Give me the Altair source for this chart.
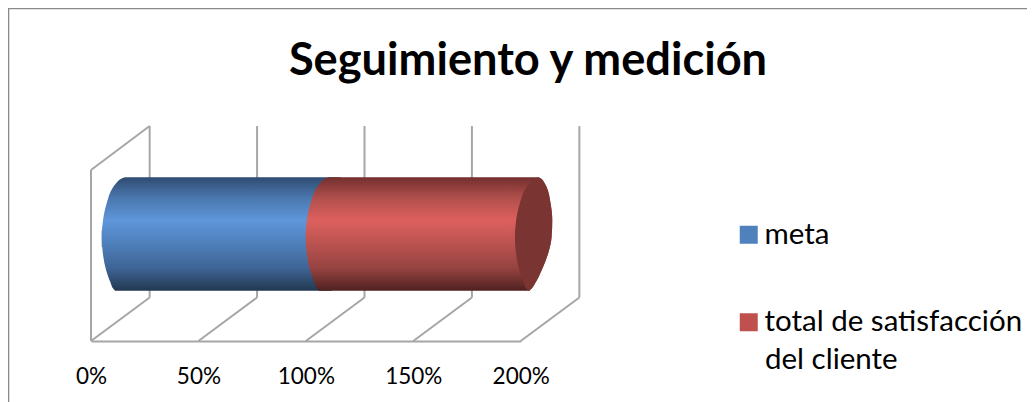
import altair as alt
import pandas as pd

# --- values ---
TITLE = "Seguimiento y medición"
series = ["meta", "total de satisfacción del cliente"]
bar_start = [5.0, 99.9]          # % where each segment's visible end begins
bar_end = [100.0, 200.0]
colors = ["#4f81bd", "#c0504d"]
ticks = [0, 50, 100, 150, 200]
legend_second_line = "del cliente"

depth_x = 27.3      # % shift of the back wall
depth_y = 25.4      # height units shift of the back wall
wall_top = 125.7
front_top = 100

# cylinder outline, top to bottom
profile_y = [95.7, 94.7, 93.0, 90.2, 80.5, 70.8, 61.0, 51.3, 41.5, 33.7, 31.0, 29.4]
end_offset = [10.8, 8.8, 7.2, 5.4, 2.3, 0.6, 0.0, 0.5, 2.0, 4.2, 5.1, 6.2]
cap_base = 197.3
cap_right = [208.2, 209.7, 210.8, 212.0, 213.9, 214.7, 214.4, 212.8, 209.8, 206.7, 205.3, 204.0]

blue_stops = [("#2f4c72", 0), ("#4a77ae", 0.18), ("#5e96da", 0.38), ("#4f80bb", 0.58), ("#3f6596", 0.8), ("#223850", 1)]
red_stops = [("#73302e", 0), ("#b04f4c", 0.18), ("#dd605d", 0.38), ("#bb5350", 0.58), ("#964341", 0.8), ("#4f2120", 1)]
cap_color = "#7a3431"
grid_color = "#a6a6a6"
border_color = "#8a8a8a"
FONT = "Lato"

# --- shared scales ---
X = alt.Scale(domain=[0, 200], range=[83, 512.7], nice=False, zero=False)
Y = alt.Scale(domain=[0, 100], range=[333, 162], nice=False, zero=False)
X_AXIS = alt.Axis(
    values=ticks, labelExpr="datum.value + '%'", grid=False, ticks=False, title=None,
    domainColor=grid_color, domainWidth=2, labelColor="#000000", labelFont=FONT,
    labelFontSize=22.5, labelPadding=24, labelFlush=False, labelOverlap=False,
)


def grad(stops):
    return alt.LinearGradient(
        gradient="linear", x1=0, x2=0, y1=0, y2=1,
        stops=[alt.GradientStop(color=c, offset=o) for c, o in stops],
    )


# --- frame of the 3D box ---
segs = []
for t in ticks:
    segs.append(dict(x=t, x2=t + depth_x, y=0, y2=depth_y))
    segs.append(dict(x=t + depth_x, x2=t + depth_x, y=depth_y, y2=wall_top))
segs.append(dict(x=0, x2=0, y=0, y2=front_top))
segs.append(dict(x=0, x2=depth_x, y=front_top, y2=wall_top))
frame = alt.Chart(pd.DataFrame(segs)).mark_rule(color=grid_color, strokeWidth=2).encode(
    x=alt.X("x:Q", scale=X, axis=X_AXIS), x2="x2:Q",
    y=alt.Y("y:Q", scale=Y, axis=None), y2="y2:Q",
)

# --- data bars: these feed the legend, the cylinder is painted on top ---
bars = pd.DataFrame({"serie": series, "a": bar_start, "b": bar_end, "lo": [55, 55], "hi": [65, 65]})
legend_bars = alt.Chart(bars).mark_bar().encode(
    x=alt.X("a:Q", scale=X, title=None), x2="b:Q",
    y=alt.Y("lo:Q", scale=Y, axis=None), y2="hi:Q",
    color=alt.Color("serie:N", sort=series, scale=alt.Scale(domain=series, range=colors), legend=alt.Legend(
        title=None, orient="none", legendX=726, legendY=212, symbolType="square", symbolSize=324,
        symbolStrokeWidth=0, labelFont=FONT, labelFontSize=29.5, labelColor="#000000", labelLimit=0,
        rowPadding=56.5, labelOffset=1, symbolOpacity=1,
        labelExpr="datum.label == 'meta' ? 'meta' : 'total de satisfacción'",
    )),
)
second_line = alt.Chart(pd.DataFrame({"t": [legend_second_line]})).mark_text(
    font=FONT, fontSize=29.5, color="#000000", align="left", baseline="alphabetic"
).encode(text="t:N", x=alt.value(757), y=alt.value(361))

# --- cylinder ---
cyl = pd.DataFrame({
    "y": profile_y,
    "blue_a": [bar_start[0] + o for o in end_offset],
    "blue_b": [bar_end[0] + o + 6 for o in end_offset],
    "red_a": [bar_start[1] + o for o in end_offset],
    "cap_a": [cap_base + o for o in end_offset],
    "cap_b": cap_right,
})


def body(a, b, fill):
    return alt.Chart(cyl).mark_area(orient="horizontal", interpolate="monotone", color=fill).encode(
        y=alt.Y("y:Q", scale=Y, axis=None),
        x=alt.X(f"{a}:Q", scale=X, title=None, stack=None), x2=f"{b}:Q",
    )


blue = body("blue_a", "blue_b", grad(blue_stops))
red = body("red_a", "cap_b", grad(red_stops))
cap = body("cap_a", "cap_b", cap_color)

# --- outer picture border ---
border_top = alt.Chart(pd.DataFrame({"k": [0]})).mark_rule(color=border_color, strokeWidth=1.6).encode(
    x=alt.value(0), x2=alt.value(1019), y=alt.value(0.5)
)
border_left = alt.Chart(pd.DataFrame({"k": [0]})).mark_rule(color=border_color, strokeWidth=1.6).encode(
    x=alt.value(0.5), y=alt.value(0), y2=alt.value(394)
)

chart = alt.layer(
    frame, border_top, border_left, legend_bars, blue, red, cap, second_line,
).resolve_scale(x="shared", y="shared").properties(
    width=1019, height=333,
    padding={"left": 0, "top": 0, "right": 0, "bottom": 61},
    autosize=alt.AutoSizeParams(type="none"),
    title=alt.TitleParams(
        TITLE, font=FONT, fontSize=45.2, fontWeight="bold", color="#000000",
        anchor="middle", frame="group", dx=10.5, dy=77, offset=0,
    ),
).configure_view(stroke=None)

chart.save("out.html", embed_options={"renderer": "svg", "actions": False})
